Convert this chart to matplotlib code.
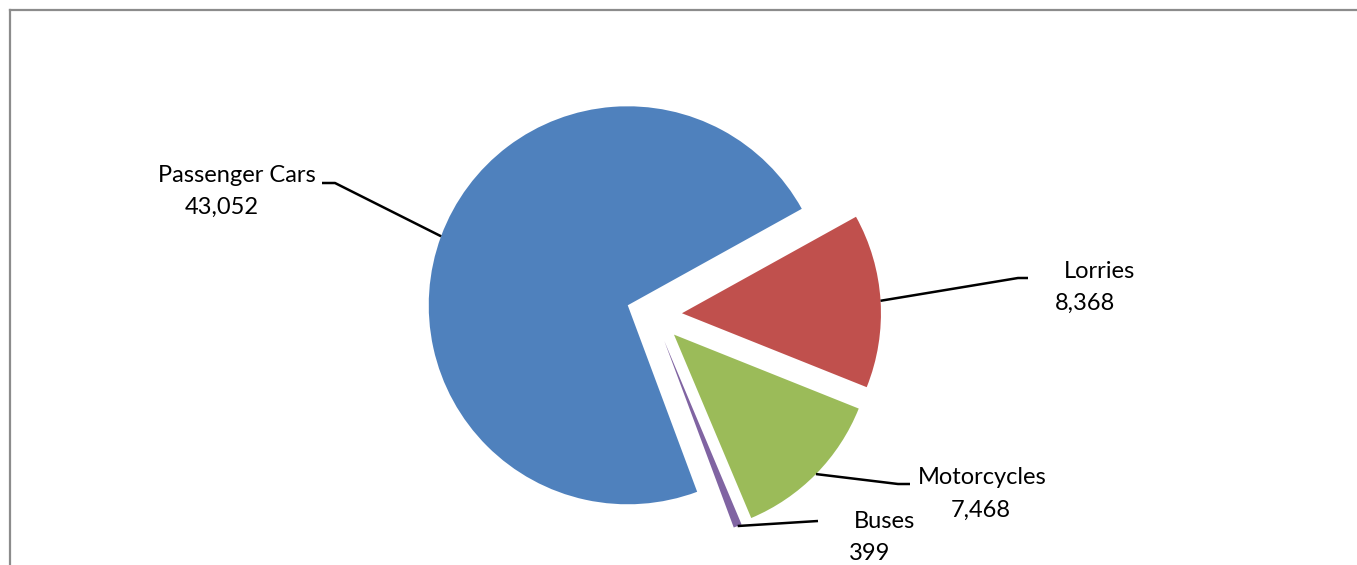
import numpy as np
import matplotlib.pyplot as plt

# drawing order: clockwise from the top-right edge of the Passenger Cars slice
categories = ["Lorries", "Motorcycles", "Buses", "Passenger Cars"]
values = [8368, 7468, 399, 43052]
colors = ["#C0504D", "#9BBB59", "#8064A2", "#4F81BD"]

W, H = 1357, 565
plt.rcParams["font.family"] = ["Lato", "DejaVu Sans"]

fig = plt.figure(figsize=(W / 100, H / 100), dpi=100)
ax = fig.add_axes([0, 0, 1, 1])

# pie in pixel-like coordinates (y up)
cx, cy, r = 654, H - 315, 199
wedges, _ = ax.pie(values, colors=colors, radius=r, center=(cx, cy),
                   startangle=29, counterclock=False,
                   explode=[28] * len(values),
                   wedgeprops=dict(linewidth=0))
ax.set_xlim(0, W)
ax.set_ylim(0, H)
ax.set_aspect("auto")
ax.axis("off")

# label layout: (knee x, knee y, end x, [(text, x, y), ...]) in pixels, y down
layout = {
    "Passenger Cars": (335, 183, 322, [("Passenger Cars", 237, 175), ("43,052", 222, 207)]),
    "Lorries": (1018, 278, 1028, [("Lorries", 1100, 271), ("8,368", 1085, 303)]),
    "Motorcycles": (898, 484, 910, [("Motorcycles", 982, 477), ("7,468", 981, 510)]),
    "Buses": (818, 521, 818, [("Buses", 885, 522), ("399", 870, 553)]),
}

for w, name in zip(wedges, categories):
    mid = np.deg2rad((w.theta1 + w.theta2) / 2)
    ex = w.center[0] + w.r * np.cos(mid)
    ey = w.center[1] + w.r * np.sin(mid)
    kx, ky, endx, lines = layout[name]
    ax.plot([ex, kx, endx], [ey, H - ky, H - ky], color="black", lw=1.8,
            solid_capstyle="butt")
    for txt, tx, ty in lines:
        ax.text(tx, H - ty, txt, ha="center", va="center", fontsize=17,
                color="black")

# chart border (left and top visible)
ax.plot([10, 10], [0, H - 10], color="#8c8c8c", lw=1.6, clip_on=False)
ax.plot([10, W], [H - 10, H - 10], color="#8c8c8c", lw=1.6, clip_on=False)

fig.savefig("out.png", dpi=100)
